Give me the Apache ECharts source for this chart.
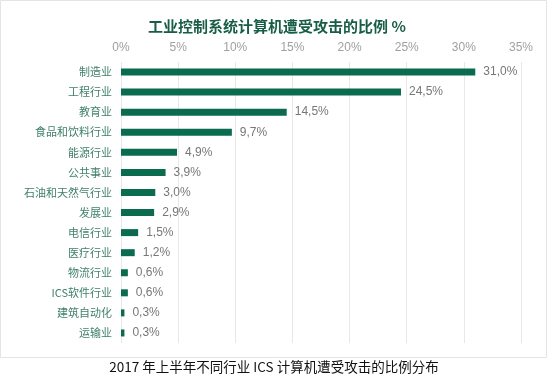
<!DOCTYPE html>
<html><head><meta charset="utf-8">
<script src="https://cdn.jsdelivr.net/npm/echarts@6/dist/echarts.min.js"></script>
<style>html,body{margin:0;padding:0;background:#fff}#c{width:548px;height:380px}</style>
</head><body><div id="c"></div>
<script>
const categories = ['制造业','工程行业','教育业','食品和饮料行业','能源行业','公共事业','石油和天然气行业','发展业','电信行业','医疗行业','物流行业','ICS软件行业','建筑自动化','运输业'];
const values = [31.0, 24.5, 14.5, 9.7, 4.9, 3.9, 3.0, 2.9, 1.5, 1.2, 0.6, 0.6, 0.3, 0.3];
const titleText = '工业控制系统计算机遭受攻击的比例 %';
const captionText = '2017 年上半年不同行业 ICS 计算机遭受攻击的比例分布';
const font = '"Noto Sans CJK SC", "Noto Sans", sans-serif';
const chart = echarts.init(document.getElementById('c'), null, {renderer:'canvas'});
chart.setOption({
  animation:false,
  backgroundColor:'#fff',
  title:{text:titleText, left:272, top:14, textAlign:'center',
    textStyle:{fontFamily:font, fontSize:15, fontWeight:'bold', color:'#185e47'}},
  graphic:[
    {type:'rect', shape:{x:0.5,y:0.5,width:546,height:357}, style:{fill:'none', stroke:'#e4e4e4', lineWidth:1}, silent:true},
    {type:'text', left:'center', top:360, style:{text:captionText, font:'13.5px '+font, fill:'#111'}}
  ],
  grid:{left:121, right:27, top:62, bottom:37},
  xAxis:{type:'value', position:'top', min:0, max:35, interval:5,
    axisLine:{show:false}, axisTick:{show:false},
    axisLabel:{formatter:'{value}%', color:'#a0a0a0', fontSize:12, fontFamily:'"Liberation Sans", Arial, sans-serif', margin:8},
    splitLine:{lineStyle:{color:'#e8e8e8'}}},
  yAxis:{type:'category', data:categories, inverse:true,
    axisLine:{show:false}, axisTick:{show:false},
    axisLabel:{color:'#3f7f6c', fontSize:11, fontFamily:font, margin:9}},
  series:[{type:'bar', data:values, barWidth:7, itemStyle:{color:'#0a6b4f'},
    label:{show:true, position:'right', distance:8, color:'#777', fontSize:12,
      fontFamily:'"Liberation Sans", Arial, sans-serif',
      formatter:p=>p.value.toFixed(1).replace('.',',')+'%'}}]
});
</script></body></html>
